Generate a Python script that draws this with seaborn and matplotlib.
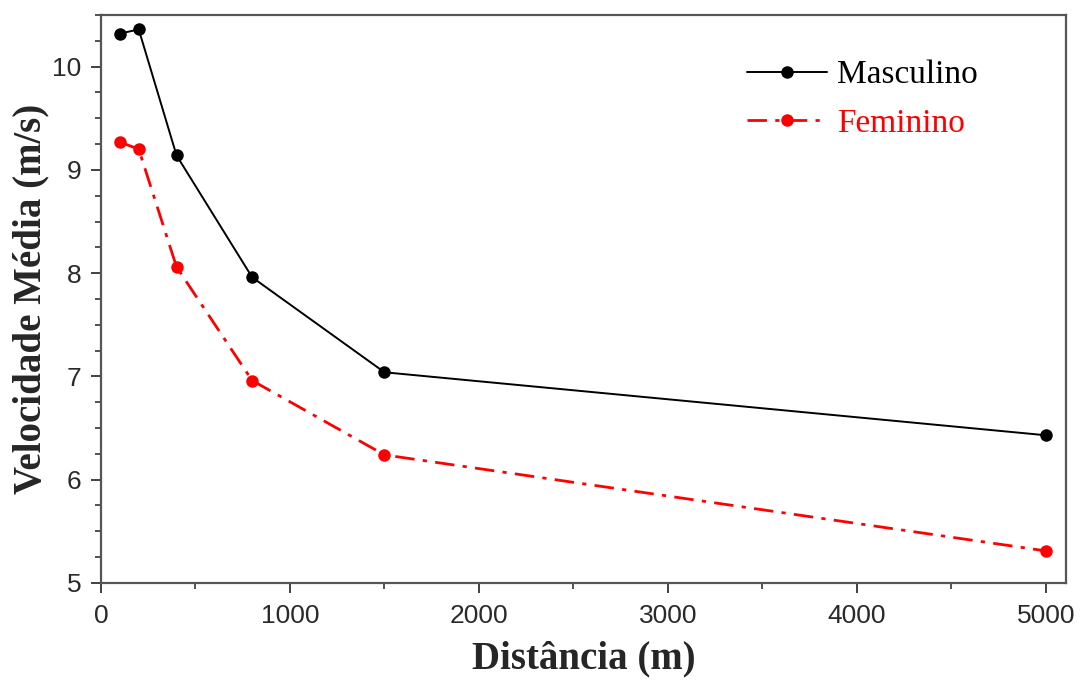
import numpy as np
import pandas as pd
import matplotlib
matplotlib.use("Agg")
import matplotlib.pyplot as plt
import seaborn as sns
from matplotlib.ticker import MultipleLocator, AutoMinorLocator

# ── data ──────────────────────────────────────────────────────
distancia = [100, 200, 400, 800, 1500, 5000]
vel_masculino = [10.32, 10.36, 9.14, 7.96, 7.04, 6.43]
vel_feminino = [9.27, 9.20, 8.06, 6.96, 6.24, 5.31]

df_m = pd.DataFrame({"dist": distancia, "vel": vel_masculino})
df_f = pd.DataFrame({"dist": distancia, "vel": vel_feminino})

# ── style ─────────────────────────────────────────────────────
sns.set_theme(style="ticks")
plt.rcParams["font.family"] = ["Liberation Sans", "DejaVu Sans"]

fig, ax = plt.subplots(figsize=(10.82, 6.81), dpi=100)
fig.subplots_adjust(left=0.0933, right=0.985, top=0.978, bottom=0.144)

sns.lineplot(data=df_m, x="dist", y="vel", ax=ax, color="black",
             linewidth=1.4, marker="o", markersize=9, markeredgewidth=0,
             label="Masculino")
sns.lineplot(data=df_f, x="dist", y="vel", ax=ax, color="#ff0000",
             linewidth=2.0, linestyle=(0, (7, 3, 1.5, 3)), marker="o",
             markersize=9, markeredgewidth=0, label="Feminino")

ax.set_xlim(0, 5105)
ax.set_ylim(5, 10.5)
ax.xaxis.set_major_locator(MultipleLocator(1000))
ax.xaxis.set_minor_locator(AutoMinorLocator(2))
ax.yaxis.set_major_locator(MultipleLocator(1))
ax.yaxis.set_minor_locator(AutoMinorLocator(4))

ax.tick_params(which="major", direction="out", length=7, width=1.3,
               labelsize=19, colors="#333333", labelcolor="#2a2a2a")
ax.tick_params(axis="x", which="major", pad=8)
ax.tick_params(axis="y", which="major", pad=7)
ax.tick_params(which="minor", direction="out", length=4, width=1.2,
               colors="#333333")

for s in ax.spines.values():
    s.set_visible(True)
    s.set_linewidth(1.6)
    s.set_color("#555555")

serif_bold = dict(family=["Liberation Serif", "DejaVu Serif"],
                  fontweight="bold", fontsize=28)
ax.set_xlabel("Distância (m)", labelpad=9, **serif_bold)
ax.set_ylabel("Velocidade Média (m/s)", labelpad=2, **serif_bold)

leg = ax.legend(loc="upper right", frameon=False,
                prop={"family": "Liberation Serif", "size": 24},
                handlelength=2.4, handletextpad=0.3, labelspacing=0.55,
                borderaxespad=0.4, bbox_to_anchor=(0.936, 0.968))
for txt, col in zip(leg.get_texts(), ["black", "#ff0000"]):
    txt.set_color(col)

plt.savefig("out.png", dpi=100)
plt.close()
